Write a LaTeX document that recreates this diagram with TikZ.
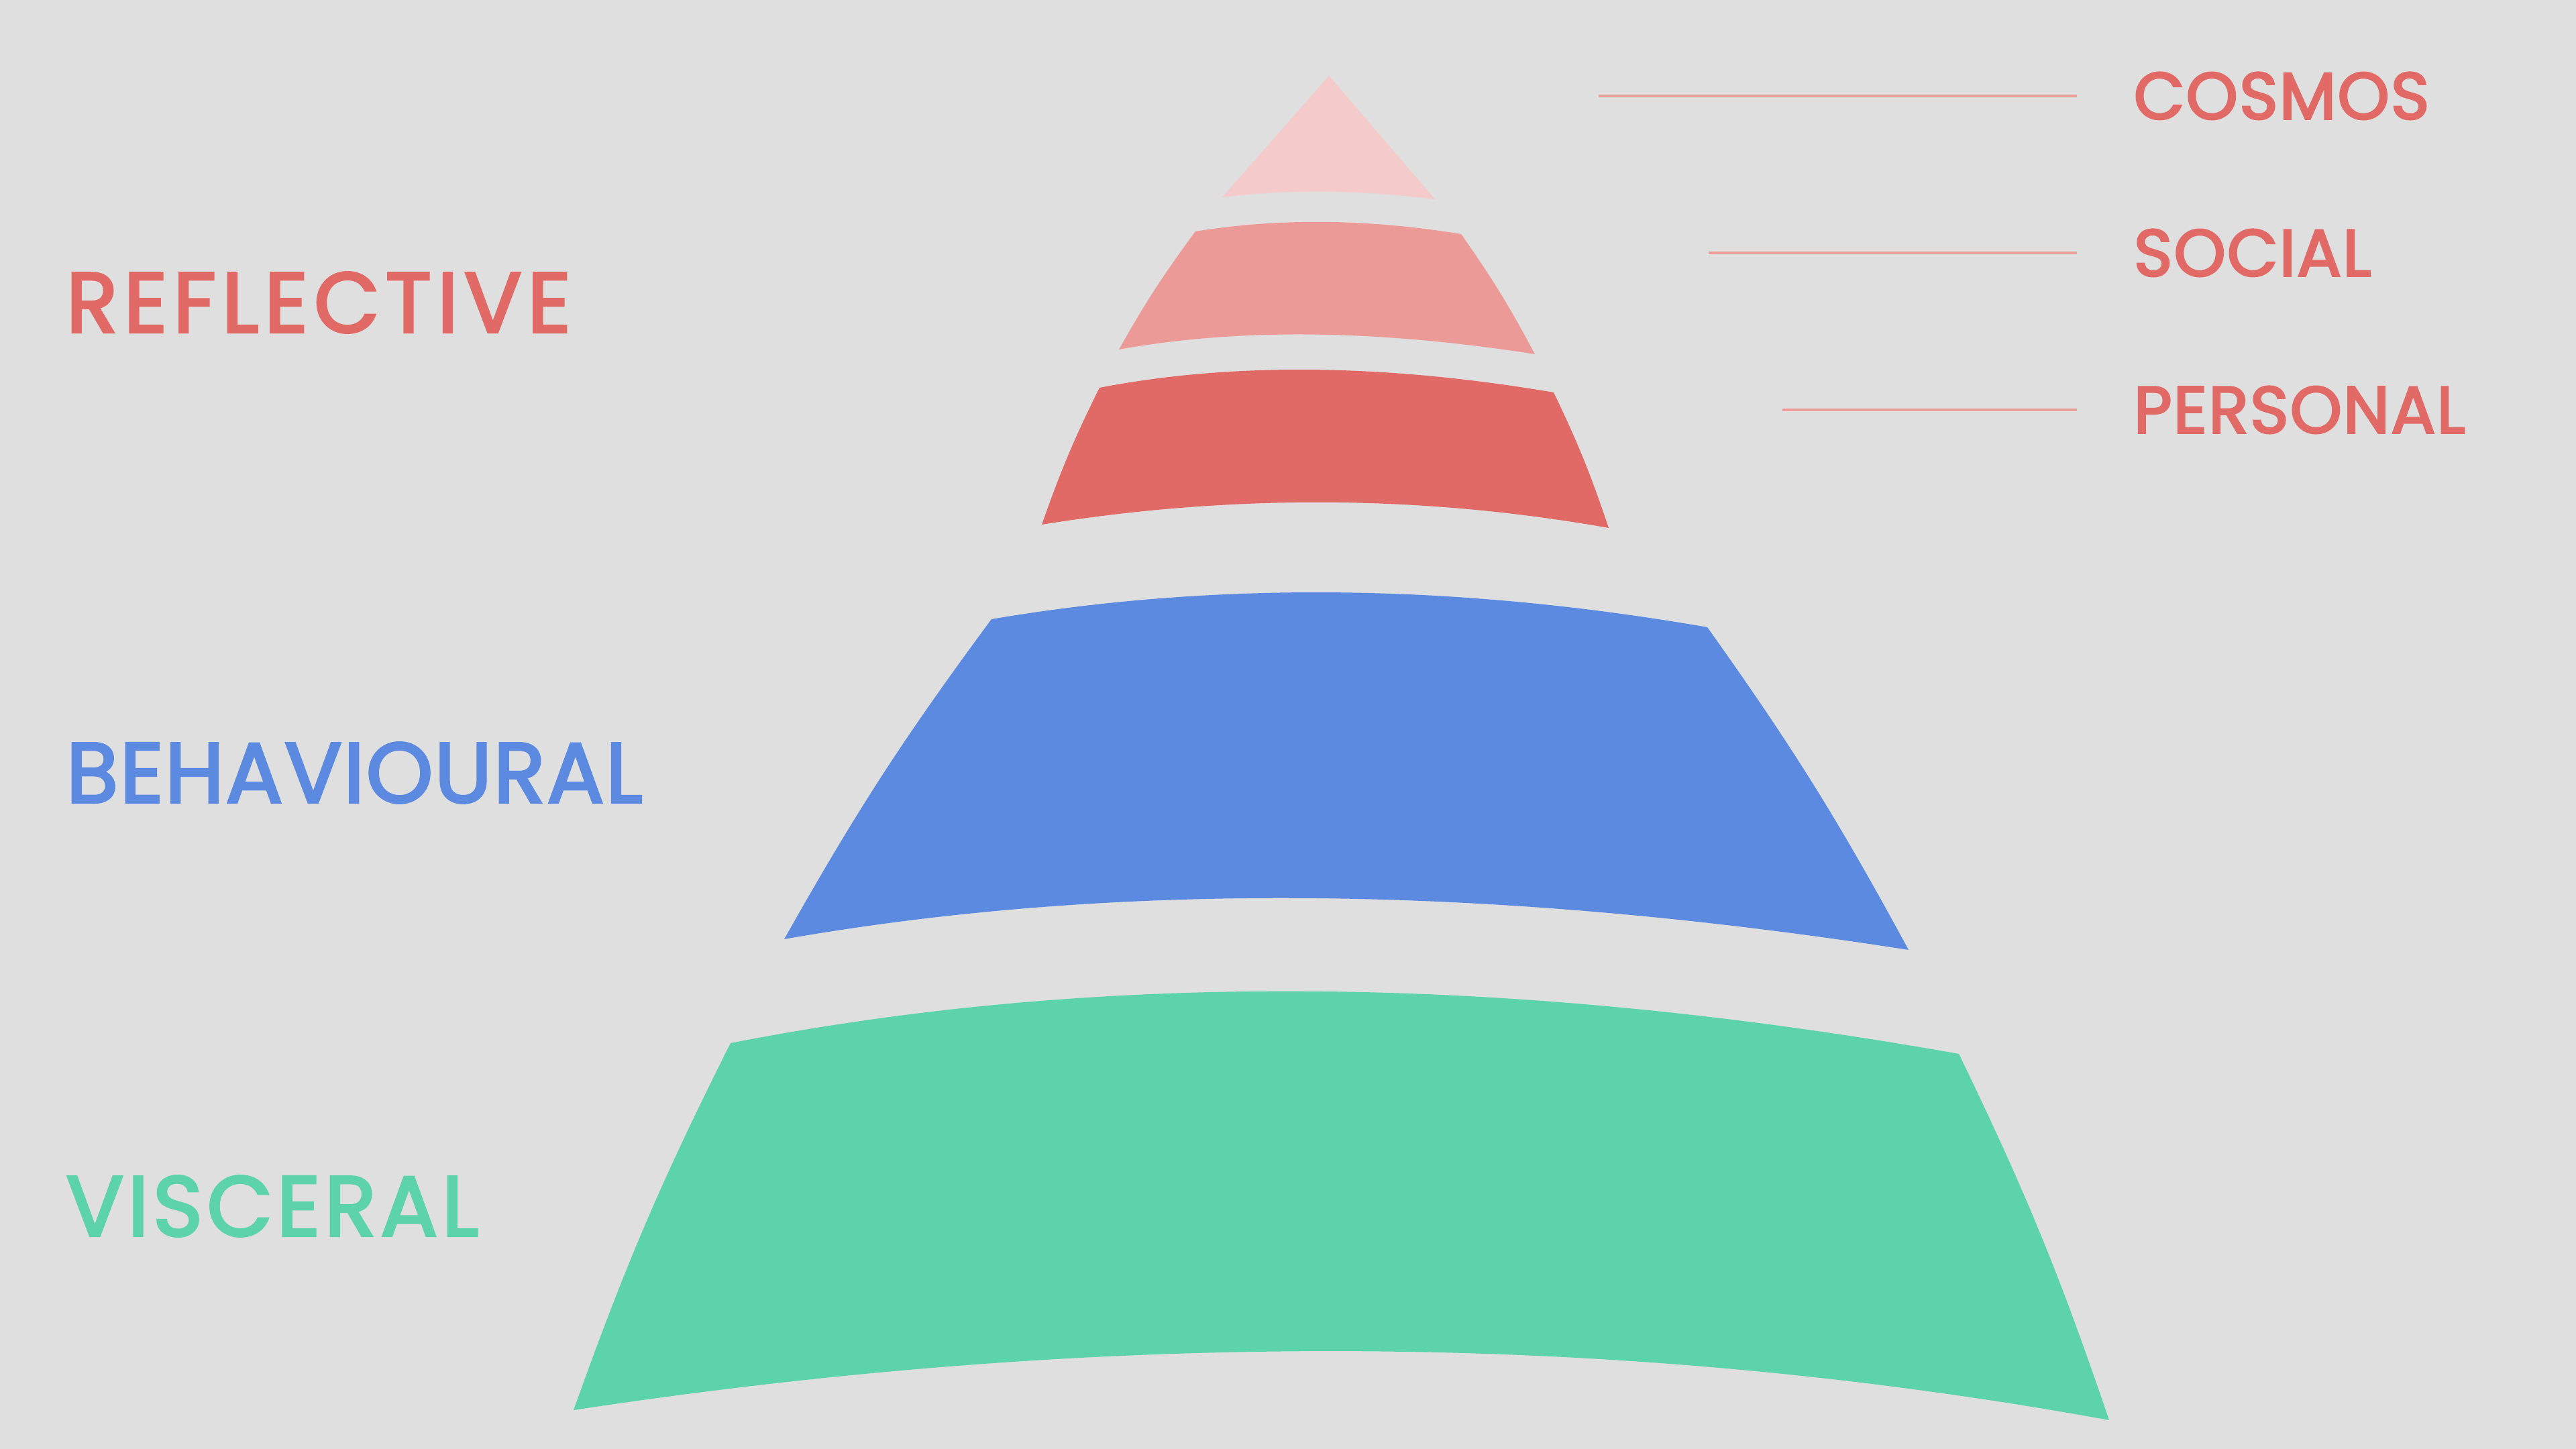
\documentclass[tikz,border=0pt]{standalone}
\usepackage{fontspec}
\newfontfamily\levelfont{Poppins}[LetterSpace=5, FakeBold=3]
\newfontfamily\scopefont{Poppins}[LetterSpace=2, FakeBold=3]
\usepackage{tikz}
\usetikzlibrary{positioning, calc}
\definecolor{bggray}{HTML}{DFDFDF}
\definecolor{cosmospink}{HTML}{F4CBCA}
\definecolor{socialrose}{HTML}{EC9A97}
\definecolor{personalred}{HTML}{E26A66}
\definecolor{behavblue}{HTML}{5B8AE0}
\definecolor{viscgreen}{HTML}{5DD3AB}
\definecolor{leadred}{HTML}{EE9D9A}

\begin{document}
\begin{tikzpicture}[
  biglabel/.style={anchor=west, inner sep=0pt, font=\levelfont\fontsize{36}{40}\selectfont},
  smalllabel/.style={anchor=west, inner sep=0pt, personalred, font=\scopefont\fontsize{28}{32}\selectfont},
  leader/.style={leadred, line width=1.4pt, shorten >=0.84cm},
  side/.style={bend left=3.5}]
  \useasboundingbox (0,0) rectangle (38.4,21.6);
  \fill[bggray] (0,0) rectangle (38.4,21.6);

  % pyramid tiers, top to bottom
  \fill[cosmospink] (19.81,20.47) -- (21.39,18.63)
        .. controls (20.25,18.77) and (19.19,18.78) .. (18.22,18.66) -- cycle;
  \fill[socialrose] (17.82,18.15) .. controls (19.06,18.35) and (20.38,18.34) .. (21.78,18.11)
        to[side] (22.88,16.32) .. controls (20.52,16.69) and (18.45,16.71) .. (16.68,16.39)
        to[side] (17.82,18.15) -- cycle;
  \fill[personalred] (16.39,15.82) .. controls (18.36,16.20) and (20.62,16.18) .. (23.16,15.75)
        to[side] (23.98,13.73) .. controls (21.21,14.22) and (18.39,14.24) .. (15.53,13.78)
        to[side] (16.39,15.82) -- cycle;
  \fill[behavblue] (14.78,12.37) .. controls (18.14,12.94) and (21.70,12.90) .. (25.45,12.25)
        to[side] (28.45,7.44) .. controls (22.24,8.41) and (16.65,8.47) .. (11.69,7.60)
        to[side] (14.78,12.37) -- cycle;
  \fill[viscgreen] (10.89,6.05) .. controls (16.40,7.13) and (22.50,7.08) .. (29.20,5.89)
        to[side] (31.44,0.43) .. controls (24.20,1.75) and (16.57,1.80) .. (8.55,0.58)
        to[side] (10.89,6.05) -- cycle;

  % levels on the left
  \node[biglabel, personalred] (reflective) at (0.98,17.09)
       {\addfontfeatures{LetterSpace=7}REFLECTIVE};
  \node[biglabel, behavblue] (behavioural) at (0.98,10.08)
       {\addfontfeatures{LetterSpace=2}BEHAVIOURAL};
  \node[biglabel, viscgreen] (visceral) at (0.98,3.62) {VISCERAL};

  % scopes on the right
  \node[smalllabel] (cosmos) at (31.80,20.17) {COSMOS};
  \node[smalllabel] (social) at (31.80,17.83) {SOCIAL};
  \node[smalllabel] (personal) at (31.80,15.49) {PERSONAL};
  \coordinate (cosmosend) at (23.83,20.17);
  \coordinate (socialend) at (25.47,17.83);
  \coordinate (personalend) at (26.57,15.49);
  \draw[leader] (cosmosend) -- (cosmos.west);
  \draw[leader] (socialend) -- (social.west);
  \draw[leader] (personalend) -- (personal.west);
\end{tikzpicture}
\end{document}
